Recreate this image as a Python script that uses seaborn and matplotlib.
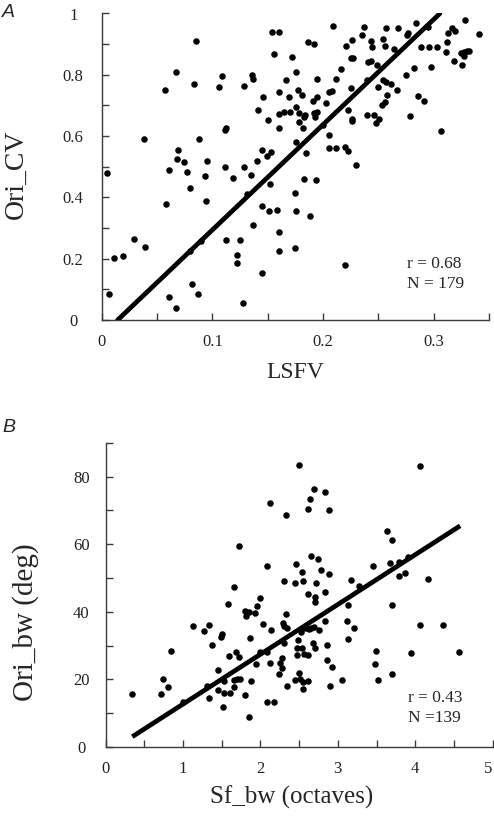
import numpy as np
import pandas as pd
import matplotlib
matplotlib.use("Agg")
import matplotlib.pyplot as plt
import seaborn as sns

# ---------------- Panel A data: LSFV vs Ori_CV ----------------
lsfv = [0.038, 0.057, 0.067, 0.085, 0.083, 0.088, 0.069, 0.068, 0.074, 0.061,
        0.095, 0.109, 0.106, 0.112, 0.111, 0.111, 0.129, 0.136, 0.137, 0.129,
        0.140, 0.146, 0.141, 0.150, 0.145, 0.149, 0.153, 0.154, 0.160, 0.156,
        0.172, 0.176, 0.167, 0.160, 0.169, 0.177, 0.160, 0.165, 0.170, 0.176,
        0.178, 0.178, 0.160, 0.176, 0.209, 0.237, 0.257, 0.268, 0.284, 0.235,
        0.226, 0.221, 0.243, 0.244, 0.254, 0.256, 0.264, 0.276, 0.277, 0.295,
        0.328, 0.341, 0.313, 0.317, 0.319, 0.312, 0.289, 0.296, 0.303, 0.311,
        0.325, 0.327, 0.330, 0.332, 0.327, 0.318, 0.326, 0.298, 0.282, 0.275,
        0.186, 0.192, 0.225, 0.227, 0.216, 0.241, 0.243, 0.249, 0.195, 0.212,
        0.240, 0.254, 0.257, 0.261, 0.250, 0.225, 0.267, 0.181, 0.208, 0.205,
        0.195, 0.191, 0.203, 0.258, 0.286, 0.291, 0.256, 0.253, 0.184, 0.183,
        0.192, 0.195, 0.193, 0.223, 0.240, 0.246, 0.251, 0.248, 0.226, 0.226,
        0.279, 0.200, 0.182, 0.205, 0.307, 0.185, 0.205, 0.212, 0.220, 0.223,
        0.230, 0.005, 0.007, 0.011, 0.019, 0.029, 0.039, 0.058, 0.077, 0.080,
        0.061, 0.067, 0.082, 0.087, 0.080, 0.090, 0.093, 0.094, 0.119, 0.135,
        0.131, 0.112, 0.122, 0.122, 0.125, 0.137, 0.128, 0.145, 0.152, 0.145,
        0.151, 0.158, 0.160, 0.160, 0.175, 0.176, 0.175, 0.183, 0.194, 0.188,
        0.220]
ori_cv = [0.59, 0.75, 0.81, 0.91, 0.77, 0.59, 0.556, 0.526, 0.516, 0.488,
          0.518, 0.797, 0.761, 0.627, 0.619, 0.500, 0.763, 0.798, 0.785, 0.500,
          0.519, 0.728, 0.684, 0.652, 0.554, 0.535, 0.547, 0.940, 0.940, 0.867,
          0.859, 0.810, 0.782, 0.743, 0.727, 0.750, 0.672, 0.678, 0.679, 0.696,
          0.676, 0.645, 0.625, 0.582, 0.959, 0.957, 0.953, 0.953, 0.968, 0.930,
          0.914, 0.894, 0.911, 0.892, 0.918, 0.895, 0.885, 0.930, 0.935, 0.957,
          0.979, 0.933, 0.937, 0.952, 0.943, 0.908, 0.891, 0.891, 0.891, 0.873,
          0.870, 0.875, 0.878, 0.879, 0.862, 0.846, 0.831, 0.825, 0.821, 0.798,
          0.907, 0.900, 0.854, 0.856, 0.820, 0.842, 0.844, 0.831, 0.787, 0.787,
          0.783, 0.783, 0.777, 0.769, 0.760, 0.757, 0.751, 0.733, 0.748, 0.743,
          0.729, 0.715, 0.709, 0.735, 0.731, 0.715, 0.711, 0.700, 0.669, 0.661,
          0.674, 0.678, 0.663, 0.685, 0.669, 0.669, 0.655, 0.644, 0.657, 0.648,
          0.667, 0.636, 0.625, 0.604, 0.617, 0.546, 0.560, 0.560, 0.563, 0.552,
          0.507, 0.479, 0.085, 0.203, 0.208, 0.263, 0.237, 0.377, 0.482, 0.431,
          0.075, 0.039, 0.116, 0.086, 0.226, 0.258, 0.471, 0.389, 0.464, 0.472,
          0.410, 0.261, 0.213, 0.187, 0.260, 0.310, 0.054, 0.153, 0.444, 0.372,
          0.357, 0.360, 0.287, 0.226, 0.413, 0.356, 0.234, 0.461, 0.458, 0.340,
          0.178]
fit_a_x = [0.0144, 0.3056]          # extent of fitted line
fit_a_coef = (-0.0495, 3.434)       # intercept, slope
stats_a = ["r = 0.68", "N = 179"]

# ---------------- Panel B data: Sf_bw vs Ori_bw ----------------
sf_bw = [2.50, 2.13, 2.33, 1.72, 2.09, 2.46, 2.30, 2.45, 1.66, 1.99,
         4.06, 2.69, 2.84, 2.64, 2.61, 2.88, 3.64, 3.70, 2.65, 2.75,
         2.54, 2.78, 2.88, 2.55, 2.72, 2.62, 2.70, 2.83, 3.17, 3.28,
         3.45, 3.67, 3.79, 3.87, 3.79, 3.91, 4.16, 0.34, 0.72, 0.74,
         0.81, 0.84, 1.00, 1.13, 1.27, 1.33, 1.37, 1.31, 1.34, 1.45,
         1.45, 1.49, 1.50, 1.58, 1.52, 1.53, 1.53, 1.59, 1.61, 1.66,
         1.66, 1.70, 1.74, 1.68, 1.72, 1.80, 1.85, 1.82, 1.93, 1.96,
         1.87, 2.03, 1.94, 1.88, 1.80, 1.85, 2.00, 2.08, 2.14, 2.13,
         2.09, 2.17, 2.33, 2.29, 2.30, 2.34, 2.31, 2.28, 2.25, 2.28,
         2.24, 2.35, 2.45, 2.49, 2.47, 2.47, 2.50, 2.51, 3.13, 3.70,
         4.06, 4.36, 3.12, 3.21, 2.83, 3.13, 2.55, 2.59, 2.63, 2.66,
         2.69, 2.76, 2.53, 2.68, 2.70, 2.86, 2.54, 2.56, 2.62, 2.86,
         2.92, 3.49, 3.94, 4.57, 3.48, 3.52, 3.70, 2.55, 2.62, 2.55,
         2.90, 3.05, 2.70]
ori_bw = [83.4, 72.1, 68.6, 59.6, 53.6, 54.1, 49.0, 48.4, 47.2, 44.1,
          83.1, 76.2, 75.4, 73.4, 70.4, 70.0, 63.8, 61.2, 56.6, 55.5,
          51.7, 52.4, 51.2, 49.0, 48.4, 45.3, 44.3, 45.9, 49.5, 47.7,
          53.6, 54.4, 50.6, 51.5, 54.7, 56.3, 49.8, 15.6, 15.6, 20.1,
          17.7, 28.3, 13.4, 35.7, 34.3, 36.1, 30.1, 18.1, 14.5, 22.8,
          16.9, 32.6, 33.3, 42.2, 11.7, 19.5, 16.0, 27.0, 16.0, 17.7,
          19.8, 20.1, 20.0, 28.0, 26.7, 40.3, 39.9, 38.8, 39.6, 41.6,
          32.2, 36.4, 24.6, 19.4, 15.3, 8.8, 28.0, 28.0, 34.6, 24.9,
          13.4, 13.4, 39.3, 36.6, 35.9, 35.3, 30.7, 26.2, 24.8, 23.3,
          21.6, 18.0, 19.8, 31.7, 29.4, 27.2, 22.0, 20.0, 42.0, 42.0,
          36.2, 36.2, 37.4, 35.2, 37.4, 31.9, 35.1, 35.3, 34.8, 35.3,
          35.6, 34.6, 33.9, 30.7, 29.4, 30.2, 29.2, 27.5, 27.1, 25.7,
          23.6, 28.3, 27.9, 28.0, 24.6, 19.8, 21.5, 19.3, 19.5, 17.2,
          18.0, 19.8, 43.0]
fit_b_x = [0.345, 4.58]
fit_b_coef = (-2.03, 14.73)
stats_b = ["r = 0.43", "N =139"]

# ---------------- figure ----------------
sns.set_style("ticks")
plt.rcParams["font.family"] = ["Liberation Serif", "DejaVu Serif"]
plt.rcParams["axes.edgecolor"] = "#3a3a3a"
plt.rcParams["axes.linewidth"] = 1.0

W, H = 494, 821
fig = plt.figure(figsize=(W / 100, H / 100), dpi=100)

axA = fig.add_axes([101.7 / W, 1 - 320 / H, 387.3 / W, 306.5 / H])
axB = fig.add_axes([105.6 / W, 1 - 747 / H, 387.0 / W, 304.2 / H])

dfA = pd.DataFrame({"LSFV": lsfv, "Ori_CV": ori_cv})
dfB = pd.DataFrame({"Sf_bw": sf_bw, "Ori_bw": ori_bw})

sns.scatterplot(data=dfA, x="LSFV", y="Ori_CV", ax=axA, color="black",
                s=22, linewidth=0, clip_on=False, zorder=3)
sns.scatterplot(data=dfB, x="Sf_bw", y="Ori_bw", ax=axB, color="black",
                s=22, linewidth=0, clip_on=False, zorder=3)

xa = np.array(fit_a_x)
sns.lineplot(x=xa, y=fit_a_coef[0] + fit_a_coef[1] * xa, ax=axA,
             color="black", linewidth=3.4, zorder=4)
xb = np.array(fit_b_x)
sns.lineplot(x=xb, y=fit_b_coef[0] + fit_b_coef[1] * xb, ax=axB,
             color="black", linewidth=3.4, zorder=4, solid_capstyle="butt")

tick_fs = 12

# Panel A axes
axA.set_xlim(0, 0.35)
axA.set_ylim(0, 1)
xt = np.round(np.arange(0, 0.351, 0.05), 2)
axA.set_xticks(xt)
axA.set_xticklabels(["0" if v == 0 else (f"{v:g}" if abs(round(v * 10) - v * 10) < 1e-6 else "") for v in xt])
yt = np.round(np.arange(0, 1.01, 0.1), 1)
axA.set_yticks(yt)
axA.set_yticklabels([("0" if v == 0 else ("1" if v == 1 else f"{v:g}")) if round(v * 10) % 2 == 0 else "" for v in yt])
axA.set_xlabel("LSFV", fontsize=17, va="center")
axA.set_ylabel("Ori_CV", fontsize=20, va="center")
axA.xaxis.set_label_coords(0.50, -0.170)
axA.yaxis.set_label_coords(-0.221, 0.476)
axA.text(0.788, 0.170, stats_a[0], transform=axA.transAxes, fontsize=12.5, va="baseline")
axA.text(0.788, 0.104, stats_a[1], transform=axA.transAxes, fontsize=12.5, va="baseline")

# Panel B axes
axB.set_xlim(0, 5)
axB.set_ylim(0, 90)
xtb = np.arange(0, 5.01, 0.5)
axB.set_xticks(xtb)
axB.set_xticklabels([f"{int(v)}" if v == int(v) else "" for v in xtb])
ytb = np.arange(0, 91, 10)
axB.set_yticks(ytb)
axB.set_yticklabels([f"{v}" if v % 20 == 0 and v <= 80 else "" for v in ytb])
axB.set_xlabel("Sf_bw (octaves)", fontsize=18, va="center")
axB.set_ylabel("Ori_bw (deg)", fontsize=21, va="center")
axB.xaxis.set_label_coords(0.481, -0.166)
axB.yaxis.set_label_coords(-0.206, 0.411)
axB.text(0.781, 0.148, stats_b[0], transform=axB.transAxes, fontsize=12.5, va="baseline")
axB.text(0.781, 0.082, stats_b[1], transform=axB.transAxes, fontsize=12.5, va="baseline")

for ax, ypad in ((axA, 20.5), (axB, 17.5)):
    sns.despine(ax=ax)
    ax.tick_params(axis="both", direction="in", length=5, width=1,
                   color="#3a3a3a", labelsize=tick_fs, labelcolor="#222222")
    ax.tick_params(axis="x", pad=10)
    ax.tick_params(axis="y", pad=ypad)
    for lab in ax.get_yticklabels():
        lab.set_horizontalalignment("center")

# keep the last x label of panel B inside the canvas
axB.get_xticklabels()[-1].set_horizontalalignment("right")

fig.text(2 / W, 1 - 17 / H, "A", fontsize=14, fontstyle="italic",
         family=["Liberation Sans", "DejaVu Sans"], va="baseline")
fig.text(2 / W, 1 - 432 / H, "B", fontsize=14, fontstyle="italic",
         family=["Liberation Sans", "DejaVu Sans"], va="baseline")

fig.savefig("out.png", dpi=100, facecolor="white")
